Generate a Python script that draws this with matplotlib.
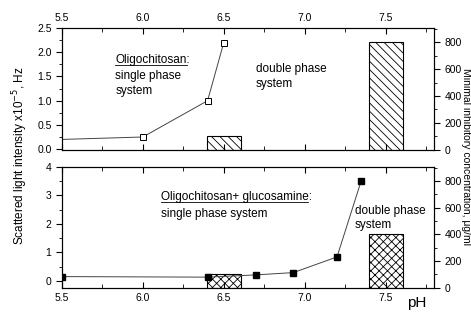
import matplotlib.pyplot as plt
from matplotlib.ticker import MultipleLocator

# top panel: oligochitosan
ph_top = [5.5, 6.0, 6.4, 6.5]
light_top = [0.2, 0.25, 1.0, 2.2]
bar_ph_top = [6.5, 7.5]
mic_top = [100, 800]

# bottom panel: oligochitosan + glucosamine
ph_bot = [5.5, 6.4, 6.7, 6.93, 7.2, 7.35]
light_bot = [0.15, 0.13, 0.21, 0.29, 0.84, 3.52]
bar_ph_bot = [6.5, 7.5]
mic_bot = [100, 400]

plt.rcParams['font.family'] = ['Liberation Sans', 'DejaVu Sans']
plt.rcParams['hatch.linewidth'] = 0.6

FS = 8.5
TICK_FS = 7.5

fig = plt.figure(figsize=(4.71, 3.12), dpi=100)
ax1 = fig.add_axes([0.1316, 0.519, 0.790, 0.391])
ax2 = fig.add_axes([0.1316, 0.077, 0.790, 0.388])


def style_axes(ax, axr, top_labels):
    ax.set_xlim(5.5, 7.8)
    ax.xaxis.set_major_locator(MultipleLocator(0.5))
    ax.xaxis.set_minor_locator(MultipleLocator(0.25))
    ax.xaxis.set_major_formatter(plt.FormatStrFormatter('%.1f'))
    ax.tick_params(axis='x', which='both', direction='in', top=True, bottom=True,
                   labeltop=top_labels, labelbottom=not top_labels, labelsize=TICK_FS)
    ax.tick_params(axis='x', which='major', length=4)
    ax.tick_params(axis='x', which='minor', length=3)
    for a in (ax, axr):
        a.tick_params(axis='y', which='both', direction='out', labelsize=TICK_FS)
        a.tick_params(axis='y', which='major', length=4)
        a.tick_params(axis='y', which='minor', length=2)
    axr.set_ylim(-2, 905)
    axr.yaxis.set_major_locator(MultipleLocator(200))
    axr.yaxis.set_minor_locator(MultipleLocator(100))


def underlined(ax, x, y, word, rest):
    # write "word" + "rest" and draw a line under "word" only
    t = ax.text(x, y, word, fontsize=FS, va='baseline')
    full = ax.text(x, y, word + rest, fontsize=FS, va='baseline')
    t.set_alpha(0)
    fig.canvas.draw()
    bb = t.get_window_extent().transformed(ax.transData.inverted())
    bl = ax.transData.transform((x, y))
    ybelow = ax.transData.inverted().transform((bl[0], bl[1] - 2.0))[1]
    ax.plot([bb.x0, bb.x1], [ybelow, ybelow], color='black', lw=0.6)
    return full


# top panel
ax1r = ax1.twinx()
ax1r.bar(bar_ph_top, mic_top, width=0.21, facecolor='white', edgecolor='black',
         hatch='\\\\\\\\', linewidth=0.8)
ax1.set_zorder(ax1r.get_zorder() + 1)
ax1.patch.set_visible(False)
ax1.plot(ph_top, light_top, color='#444444', lw=0.7, marker='s', ms=4.5,
         mfc='white', mec='black', mew=0.7, markevery=[1, 2, 3])
ax1.set_ylim(-0.02, 2.5)
ax1.yaxis.set_major_locator(MultipleLocator(0.5))
ax1.yaxis.set_minor_locator(MultipleLocator(0.25))
ax1.yaxis.set_major_formatter(plt.FormatStrFormatter('%.1f'))
style_axes(ax1, ax1r, True)

# bottom panel
ax2r = ax2.twinx()
ax2r.bar(bar_ph_bot, mic_bot, width=0.21, facecolor='white', edgecolor='black',
         hatch='xxxx', linewidth=0.8)
ax2.set_zorder(ax2r.get_zorder() + 1)
ax2.patch.set_visible(False)
ax2.plot(ph_bot, light_bot, color='#444444', lw=0.7, marker='s', ms=4.5,
         mfc='black', mec='black')
ax2.set_ylim(-0.25, 4)
ax2.yaxis.set_major_locator(MultipleLocator(1))
ax2.yaxis.set_minor_locator(MultipleLocator(0.5))
style_axes(ax2, ax2r, False)

# annotations
underlined(ax1, 5.83, 1.78, 'Oligochitosan', ':')
ax1.text(5.83, 1.45, 'single phase', fontsize=FS, va='baseline')
ax1.text(5.83, 1.13, 'system', fontsize=FS, va='baseline')
ax1.text(6.70, 1.60, 'double phase', fontsize=FS, va='baseline')
ax1.text(6.70, 1.28, 'system', fontsize=FS, va='baseline')

underlined(ax2, 6.11, 2.85, 'Oligochitosan+ glucosamine', ':')
ax2.text(6.11, 2.23, 'single phase system', fontsize=FS, va='baseline')
ax2.text(7.31, 2.35, 'double phase', fontsize=FS, va='baseline')
ax2.text(7.31, 1.85, 'system', fontsize=FS, va='baseline')

fig.text(0.042, 0.5, 'Scattered light intensity x10$^{-5}$, Hz', rotation=90,
         ha='center', va='center', fontsize=FS)
fig.text(0.989, 0.5, 'Minimal inhibitory concentration, \u03bcg/ml', rotation=270,
         ha='center', va='center', fontsize=7.5)
fig.text(0.885, 0.03, 'pH', fontsize=11, ha='center', va='center')

fig.savefig('out.png', dpi=100)
